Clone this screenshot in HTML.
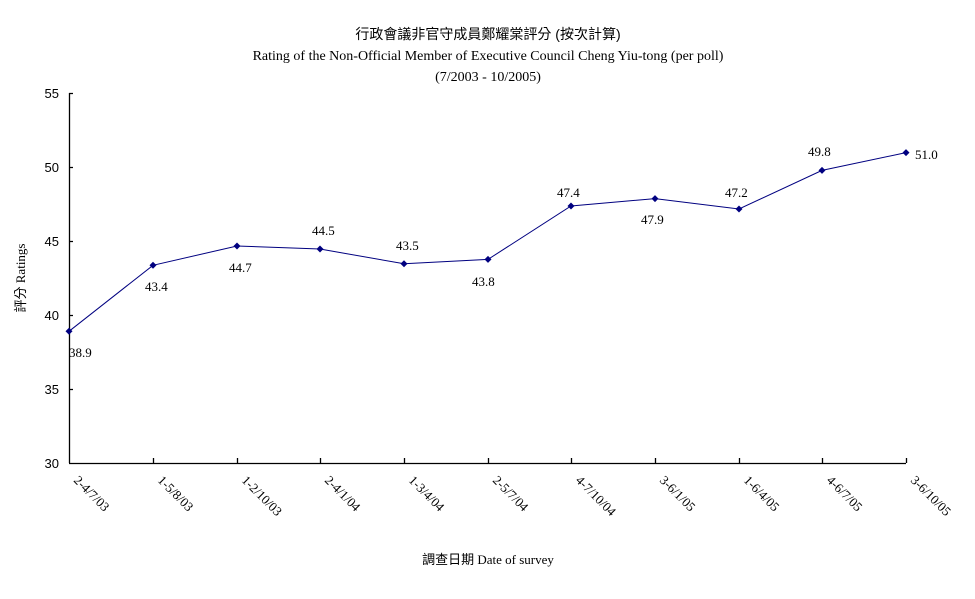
<!DOCTYPE html>
<html><head><meta charset="utf-8"><style>body{margin:0;background:#fff}svg{display:block}</style></head>
<body>
<svg width="975" height="599" xmlns="http://www.w3.org/2000/svg" font-family="'Liberation Serif','Noto Serif CJK SC',serif" font-size="13">
<rect width="975" height="599" fill="#fff"/>
<g text-anchor="middle" font-size="14">
<text x="488" y="39" font-family="'Liberation Sans','Noto Sans CJK TC',sans-serif">行政會議非官守成員鄭耀棠評分 (按次計算)</text>
<text x="488" y="60">Rating of the Non-Official Member of Executive Council Cheng Yiu-tong  (per poll)</text>
<text x="488" y="81">(7/2003 - 10/2005)</text>
</g>
<g stroke="#000" stroke-width="1.3" fill="none">
<line x1="69.5" y1="93" x2="69.5" y2="463"/>
<line x1="69" y1="463.5" x2="906" y2="463.5"/>
<path d="M69 93.5h4M69 167.5h4M69 241.5h4M69 315.5h4M69 389.5h4"/>
<path d="M153.5 463v-5M237.5 463v-5M320.5 463v-5M404.5 463v-5M488.5 463v-5M571.5 463v-5M655.5 463v-5M739.5 463v-5M822.5 463v-5M906.5 463v-5"/>
</g>
<g text-anchor="end" font-family="'Liberation Sans',sans-serif" font-size="13">
<text x="59" y="98">55</text><text x="59" y="172">50</text><text x="59" y="246">45</text>
<text x="59" y="320">40</text><text x="59" y="394">35</text><text x="59" y="468">30</text>
</g>
<text transform="translate(25,278) rotate(-90)" text-anchor="middle" font-family="'Liberation Serif','Noto Sans CJK TC',serif">評分 Ratings</text>
<text x="488" y="564" text-anchor="middle" font-family="'Liberation Serif','Noto Sans CJK TC',serif">調查日期 Date of survey</text>
<g font-size="13">
<text transform="translate(73,481) rotate(45)">2-4/7/03</text>
<text transform="translate(157,481) rotate(45)">1-5/8/03</text>
<text transform="translate(241,481) rotate(45)">1-2/10/03</text>
<text transform="translate(324,481) rotate(45)">2-4/1/04</text>
<text transform="translate(408,481) rotate(45)">1-3/4/04</text>
<text transform="translate(492,481) rotate(45)">2-5/7/04</text>
<text transform="translate(575,481) rotate(45)">4-7/10/04</text>
<text transform="translate(659,481) rotate(45)">3-6/1/05</text>
<text transform="translate(743,481) rotate(45)">1-6/4/05</text>
<text transform="translate(826,481) rotate(45)">4-6/7/05</text>
<text transform="translate(910,481) rotate(45)">3-6/10/05</text>
</g>
<polyline fill="none" stroke="#000080" stroke-width="1" points="69,331.3 153,265.3 237,246 320,249 404,263.8 488,259.4 571,206 655,198.6 739,209 822,170.4 906,152.6"/>
<g fill="#000080">
<path d="M69 327.8l3.5 3.5-3.5 3.5-3.5-3.5z"/><path d="M153 261.8l3.5 3.5-3.5 3.5-3.5-3.5z"/>
<path d="M237 242.5l3.5 3.5-3.5 3.5-3.5-3.5z"/><path d="M320 245.5l3.5 3.5-3.5 3.5-3.5-3.5z"/>
<path d="M404 260.3l3.5 3.5-3.5 3.5-3.5-3.5z"/><path d="M488 255.9l3.5 3.5-3.5 3.5-3.5-3.5z"/>
<path d="M571 202.5l3.5 3.5-3.5 3.5-3.5-3.5z"/><path d="M655 195.1l3.5 3.5-3.5 3.5-3.5-3.5z"/>
<path d="M739 205.5l3.5 3.5-3.5 3.5-3.5-3.5z"/><path d="M822 166.9l3.5 3.5-3.5 3.5-3.5-3.5z"/>
<path d="M906 149.1l3.5 3.5-3.5 3.5-3.5-3.5z"/>
</g>
<g font-size="13">
<text x="69" y="357">38.9</text><text x="145" y="291">43.4</text><text x="229" y="272">44.7</text>
<text x="312" y="235">44.5</text><text x="396" y="250">43.5</text><text x="472" y="286">43.8</text>
<text x="557" y="197">47.4</text><text x="641" y="224">47.9</text><text x="725" y="197">47.2</text>
<text x="808" y="156">49.8</text><text x="915" y="159">51.0</text>
</g>
</svg>
</body></html>
